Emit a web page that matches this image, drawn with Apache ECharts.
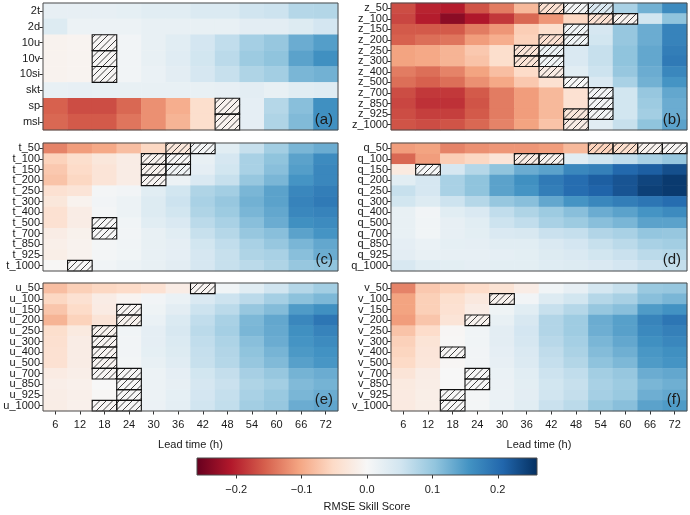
<!DOCTYPE html>
<html><head><meta charset="utf-8">
<script src="https://cdn.jsdelivr.net/npm/echarts@6/dist/echarts.min.js"></script>
<style>html,body{margin:0;padding:0;background:#fff}#c{width:690px;height:515px}</style>
</head><body><div id="c"></div>
<script>
const leadTimes = ['6','12','18','24','30','36','42','48','54','60','66','72'];

const rowsA = ['2t','2d','10u','10v','10si','skt','sp','msl'];
const valsA = [
 [0.022,0.022,0.022,0.024,0.03,0.03,0.038,0.038,0.052,0.055,0.075,0.077],
 [0.035,0.015,0.015,0.015,0.02,0.02,0.02,0.02,0.028,0.028,0.035,0.048],
 [-0.01,-0.008,-0.003,0.008,0.02,0.03,0.048,0.065,0.088,0.1,0.13,0.145],
 [-0.01,-0.008,-0.003,0.008,0.02,0.032,0.05,0.07,0.095,0.105,0.14,0.16],
 [-0.01,-0.008,-0.003,0.008,0.018,0.028,0.045,0.06,0.08,0.09,0.12,0.125],
 [0.02,0.022,0.02,0.02,0.02,0.02,0.02,0.022,0.028,0.02,0.03,0.033],
 [-0.155,-0.17,-0.17,-0.15,-0.12,-0.095,-0.045,-0.01,0.025,0.075,0.11,0.16],
 [-0.15,-0.16,-0.16,-0.14,-0.12,-0.09,-0.045,-0.01,0.025,0.08,0.115,0.16]
];
const hatchA = [[2,2],[2,3],[2,4],[7,6],[7,7]];

const rowsB = ['z_50','z_100','z_150','z_200','z_250','z_300','z_400','z_500','z_700','z_850','z_925','z_1000'];
const valsB = [
 [-0.17,-0.2,-0.205,-0.165,-0.135,-0.085,-0.04,0.005,0.04,0.085,0.125,0.165],
 [-0.175,-0.205,-0.235,-0.21,-0.185,-0.15,-0.115,-0.055,-0.04,-0.01,0.05,0.105],
 [-0.16,-0.16,-0.16,-0.135,-0.115,-0.065,-0.045,0.01,0.045,0.1,0.13,0.175],
 [-0.155,-0.145,-0.14,-0.11,-0.095,-0.06,-0.04,0.01,0.05,0.1,0.13,0.175],
 [-0.105,-0.1,-0.09,-0.07,-0.045,-0.035,0.015,0.04,0.06,0.105,0.135,0.18],
 [-0.105,-0.1,-0.09,-0.075,-0.045,-0.035,0.01,0.04,0.06,0.105,0.135,0.185],
 [-0.135,-0.145,-0.13,-0.105,-0.08,-0.05,-0.02,0.03,0.055,0.1,0.13,0.17],
 [-0.145,-0.155,-0.145,-0.12,-0.1,-0.07,-0.04,0.0,0.04,0.085,0.125,0.155],
 [-0.17,-0.185,-0.185,-0.16,-0.135,-0.11,-0.085,-0.04,0.005,0.05,0.1,0.135],
 [-0.175,-0.19,-0.19,-0.165,-0.135,-0.11,-0.085,-0.04,0.005,0.05,0.095,0.13],
 [-0.17,-0.18,-0.18,-0.16,-0.135,-0.11,-0.085,-0.03,0.005,0.05,0.09,0.13],
 [-0.165,-0.17,-0.165,-0.15,-0.13,-0.105,-0.075,-0.02,0.03,0.06,0.105,0.14]
];
const hatchB = [[6,0],[7,0],[8,0],[8,1],[9,1],[7,2],[6,3],[7,3],[5,4],[6,4],[5,5],[6,5],[6,6],[7,7],[8,8],[8,9],[7,10],[8,10],[7,11]];

const rowsC = ['t_50','t_100','t_150','t_200','t_250','t_300','t_400','t_500','t_700','t_850','t_925','t_1000'];
const valsC = [
 [-0.13,-0.11,-0.1,-0.08,-0.055,-0.03,0.005,0.03,0.06,0.09,0.12,0.13],
 [-0.06,-0.045,-0.03,-0.02,-0.01,0.0,0.02,0.045,0.085,0.105,0.14,0.165],
 [-0.07,-0.05,-0.035,-0.02,-0.01,0.01,0.025,0.05,0.085,0.11,0.145,0.17],
 [-0.075,-0.055,-0.035,-0.02,-0.005,0.015,0.04,0.06,0.1,0.12,0.155,0.17],
 [-0.04,-0.035,0.005,0.008,0.03,0.05,0.08,0.09,0.12,0.14,0.17,0.18],
 [-0.03,-0.01,0.008,0.015,0.035,0.055,0.085,0.1,0.125,0.14,0.175,0.185],
 [-0.04,-0.02,0.005,0.015,0.035,0.05,0.08,0.095,0.12,0.135,0.17,0.175],
 [-0.04,-0.02,0.0,0.01,0.03,0.04,0.07,0.085,0.11,0.13,0.16,0.165],
 [-0.02,-0.012,0.0,0.008,0.02,0.03,0.06,0.075,0.1,0.11,0.14,0.155],
 [-0.015,-0.01,0.005,0.01,0.02,0.025,0.05,0.065,0.085,0.1,0.12,0.135],
 [-0.017,-0.01,0.005,0.01,0.02,0.025,0.045,0.06,0.08,0.085,0.11,0.13],
 [-0.002,0.0,0.01,0.015,0.02,0.028,0.045,0.06,0.07,0.08,0.1,0.105]
];
const hatchC = [[5,0],[6,0],[4,1],[5,1],[4,2],[5,2],[4,3],[2,7],[2,8],[1,11]];

const rowsD = ['q_50','q_100','q_150','q_200','q_250','q_300','q_400','q_500','q_700','q_850','q_925','q_1000'];
const valsD = [
 [-0.11,-0.105,-0.13,-0.12,-0.115,-0.115,-0.11,-0.085,-0.06,-0.045,-0.01,-0.003],
 [-0.15,-0.11,-0.065,-0.055,-0.035,-0.02,-0.01,0.03,0.05,0.065,0.085,0.1],
 [-0.025,0.0,0.045,0.075,0.105,0.13,0.14,0.17,0.178,0.205,0.215,0.23],
 [0.03,0.045,0.085,0.105,0.14,0.16,0.185,0.2,0.215,0.225,0.24,0.25],
 [0.06,0.045,0.085,0.105,0.14,0.155,0.18,0.2,0.21,0.225,0.245,0.25],
 [0.05,0.035,0.055,0.075,0.1,0.11,0.135,0.155,0.17,0.18,0.19,0.2],
 [0.02,0.008,0.03,0.04,0.065,0.08,0.095,0.11,0.13,0.14,0.155,0.165],
 [0.02,0.01,0.022,0.03,0.055,0.065,0.085,0.095,0.11,0.12,0.14,0.14],
 [0.02,0.01,0.022,0.027,0.04,0.043,0.058,0.062,0.078,0.085,0.102,0.1],
 [0.025,0.018,0.024,0.025,0.03,0.03,0.04,0.048,0.06,0.07,0.085,0.09],
 [0.028,0.02,0.022,0.022,0.025,0.027,0.035,0.04,0.05,0.058,0.07,0.075],
 [0.043,0.03,0.027,0.025,0.027,0.027,0.033,0.036,0.04,0.048,0.058,0.063]
];
const hatchD = [[8,0],[9,0],[10,0],[11,0],[5,1],[6,1],[1,2]];

const rowsE = ['u_50','u_100','u_150','u_200','u_250','u_300','u_400','u_500','u_700','u_850','u_925','u_1000'];
const valsE = [
 [-0.08,-0.063,-0.055,-0.05,-0.04,-0.02,-0.005,0.01,0.03,0.052,0.075,0.09],
 [-0.055,-0.04,-0.02,-0.008,0.008,0.018,0.04,0.055,0.07,0.088,0.107,0.118],
 [-0.073,-0.05,-0.022,-0.005,0.013,0.028,0.055,0.07,0.1,0.113,0.148,0.16],
 [-0.09,-0.06,-0.035,-0.01,0.018,0.038,0.065,0.085,0.118,0.135,0.17,0.19],
 [-0.045,-0.025,-0.01,0.01,0.025,0.042,0.07,0.088,0.12,0.133,0.16,0.175],
 [-0.042,-0.02,-0.005,0.008,0.025,0.038,0.065,0.082,0.11,0.13,0.155,0.165],
 [-0.04,-0.02,-0.005,0.008,0.024,0.035,0.062,0.078,0.105,0.122,0.15,0.157],
 [-0.04,-0.02,-0.005,0.007,0.02,0.032,0.06,0.075,0.1,0.115,0.143,0.153],
 [-0.022,-0.016,-0.003,0.0,0.015,0.025,0.05,0.063,0.087,0.1,0.123,0.13],
 [-0.016,-0.013,0.0,0.0,0.015,0.022,0.045,0.058,0.08,0.09,0.115,0.123],
 [-0.018,-0.014,-0.002,0.0,0.015,0.024,0.048,0.062,0.085,0.098,0.12,0.13],
 [-0.018,-0.013,-0.003,0.0,0.016,0.026,0.052,0.064,0.09,0.1,0.13,0.137]
];
const hatchE = [[6,0],[3,2],[3,3],[2,4],[2,5],[2,6],[2,7],[2,8],[3,8],[3,9],[3,10],[2,11],[3,11]];

const rowsF = ['v_50','v_100','v_150','v_200','v_250','v_300','v_400','v_500','v_700','v_850','v_925','v_1000'];
const valsF = [
 [-0.13,-0.07,-0.06,-0.05,-0.038,-0.02,0.01,0.022,0.047,0.06,0.097,0.1],
 [-0.105,-0.063,-0.043,-0.027,-0.01,0.008,0.035,0.05,0.075,0.086,0.11,0.12],
 [-0.105,-0.063,-0.04,-0.02,0.012,0.03,0.06,0.075,0.1,0.11,0.148,0.157],
 [-0.11,-0.073,-0.035,-0.01,0.02,0.043,0.078,0.093,0.13,0.143,0.173,0.19],
 [-0.075,-0.048,-0.003,0.01,0.028,0.048,0.078,0.093,0.128,0.142,0.168,0.178],
 [-0.062,-0.036,-0.002,0.01,0.028,0.045,0.073,0.088,0.12,0.135,0.16,0.17],
 [-0.057,-0.033,-0.003,0.008,0.025,0.04,0.066,0.083,0.113,0.127,0.152,0.16],
 [-0.052,-0.031,-0.003,0.008,0.022,0.037,0.062,0.077,0.106,0.118,0.148,0.155],
 [-0.035,-0.02,0.0,0.0,0.018,0.03,0.055,0.065,0.09,0.1,0.13,0.135],
 [-0.025,-0.018,0.0,0.0,0.017,0.027,0.05,0.06,0.085,0.095,0.12,0.127],
 [-0.024,-0.017,0.0,0.005,0.017,0.028,0.052,0.063,0.088,0.098,0.128,0.135],
 [-0.024,-0.017,0.0,0.005,0.018,0.03,0.058,0.07,0.098,0.11,0.14,0.148]
];
const hatchF = [[4,1],[3,3],[2,6],[3,8],[3,9],[2,10],[2,11]];

const cbMin = -0.26, cbMax = 0.26;
const cbTicks = [-0.2, -0.1, 0.0, 0.1, 0.2];
const panelLabels = ['(a)','(b)','(c)','(d)','(e)','(f)'];

// ---------- styling / layout ----------
const FONT = '"Liberation Sans", Arial, Helvetica, sans-serif';
const TXT = '#1a1a1a';
const RdBu = ['#67001f','#b2182b','#d6604d','#f4a582','#fddbc7','#f7f7f7','#d1e5f0','#92c5de','#4393c3','#2166ac','#053061'];
const panels = [
  {rows: rowsA, vals: valsA, hatch: hatchA},
  {rows: rowsB, vals: valsB, hatch: hatchB},
  {rows: rowsC, vals: valsC, hatch: hatchC},
  {rows: rowsD, vals: valsD, hatch: hatchD},
  {rows: rowsE, vals: valsE, hatch: hatchE},
  {rows: rowsF, vals: valsF, hatch: hatchF}
];
const gridPos = [
  {left: 43, top: 3, width: 295, height: 127},
  {left: 391, top: 3, width: 296, height: 127},
  {left: 43, top: 143, width: 295, height: 128},
  {left: 391, top: 143, width: 296, height: 128},
  {left: 43, top: 283, width: 295, height: 128},
  {left: 391, top: 283, width: 296, height: 128}
];
const labelPos = [[333,120],[681,120],[333,260],[681,260],[333,400],[681,400]];

const grids = gridPos.map(g => Object.assign({}, g, {show: true, borderColor: '#4a4a4a', borderWidth: 1, backgroundColor: 'transparent', z: 10}));
grids.push({left: 197, top: 458, width: 340, height: 17, show: true, borderColor: '#4a4a4a', borderWidth: 1, backgroundColor: 'transparent', z: 10});

const xAxes = [], yAxes = [], series = [];
panels.forEach((p, i) => {
  const bottom = i >= 4;
  xAxes.push({
    type: 'category', gridIndex: i, data: leadTimes, show: bottom,
    axisLine: {show: false}, splitLine: {show: false},
    axisTick: {show: true, alignWithLabel: true, interval: 0, length: 3.5, lineStyle: {color: '#333'}},
    axisLabel: {fontSize: 11, color: TXT, fontFamily: FONT, margin: 8, interval: 0},
    name: bottom ? 'Lead time (h)' : '', nameLocation: 'middle', nameGap: 28,
    nameTextStyle: {fontSize: 11, color: TXT, fontFamily: FONT}
  });
  yAxes.push({
    type: 'category', gridIndex: i, data: p.rows, inverse: true,
    axisLine: {show: false}, splitLine: {show: false},
    axisTick: {show: true, alignWithLabel: true, interval: 0, length: 3.5, lineStyle: {color: '#333'}},
    axisLabel: {fontSize: 11, color: TXT, fontFamily: FONT, margin: 3, interval: 0}
  });
  const data = [];
  p.vals.forEach((row, r) => row.forEach((v, c) => data.push([c, r, v])));
  series.push({
    type: 'heatmap', xAxisIndex: i, yAxisIndex: i, data: data,
    itemStyle: {borderWidth: 0}, emphasis: {disabled: true}, silent: true, progressive: 0
  });
});
panels.forEach((p, i) => {
  series.push({
    type: 'custom', xAxisIndex: i, yAxisIndex: i, data: p.hatch, z: 5, silent: true,
    encode: {x: 0, y: 1},
    renderItem: function (params, api) {
      const c = api.coord([api.value(0), api.value(1)]);
      const s = api.size([1, 1]);
      const x0 = c[0] - s[0] / 2, y0 = c[1] - s[1] / 2, w = s[0], h = s[1];
      const d = 6.5, children = [];
      for (let C = Math.ceil((x0 + y0) / d) * d; C < x0 + y0 + w + h; C += d) {
        const xa = Math.max(x0, C - y0 - h), xb = Math.min(x0 + w, C - y0);
        if (xb - xa > 0.3) children.push({type: 'line', shape: {x1: xa, y1: C - xa, x2: xb, y2: C - xb}, style: {stroke: '#111', lineWidth: 0.8}});
      }
      children.push({type: 'rect', shape: {x: x0, y: y0, width: w, height: h}, style: {fill: null, stroke: '#111', lineWidth: 1.1}});
      return {type: 'group', children: children};
    }
  });
});

// colorbar
xAxes.push({
  type: 'value', gridIndex: 6, min: cbMin, max: cbMax,
  axisLine: {show: false}, splitLine: {show: false},
  axisTick: {show: true, customValues: cbTicks, length: 3.5, lineStyle: {color: '#333'}},
  axisLabel: {customValues: cbTicks, fontSize: 11, color: TXT, fontFamily: FONT, margin: 9,
    formatter: v => (v < 0 ? '\u2212' : '') + Math.abs(v).toFixed(1)},
  name: 'RMSE Skill Score', nameLocation: 'middle', nameGap: 26,
  nameTextStyle: {fontSize: 11, color: TXT, fontFamily: FONT}
});
yAxes.push({type: 'value', gridIndex: 6, min: 0, max: 1, show: false});
series.push({
  type: 'custom', xAxisIndex: 6, yAxisIndex: 6, data: [[cbMin, cbMax]], silent: true,
  renderItem: function (params, api) {
    const a = api.coord([api.value(0), 0]);
    const b = api.coord([api.value(1), 1]);
    const stops = RdBu.map((col, k) => ({offset: k / (RdBu.length - 1), color: col}));
    return {type: 'rect', shape: {x: a[0], y: b[1], width: b[0] - a[0], height: a[1] - b[1]},
      style: {fill: new echarts.graphic.LinearGradient(0, 0, 1, 0, stops)}};
  }
});

const graphic = panelLabels.map((t, i) => ({
  type: 'text', x: labelPos[i][0], y: labelPos[i][1], z: 20, silent: true,
  style: {text: t, fill: TXT, font: '15px ' + FONT, textAlign: 'right', textVerticalAlign: 'middle'}
}));

const chart = echarts.init(document.getElementById('c'), null, {renderer: 'canvas'});
chart.setOption({
  animation: false,
  backgroundColor: '#fff',
  grid: grids, xAxis: xAxes, yAxis: yAxes,
  visualMap: {type: 'continuous', show: false, min: cbMin, max: cbMax, dimension: 2,
    seriesIndex: [0,1,2,3,4,5], inRange: {color: RdBu}},
  graphic: graphic,
  series: series
});
</script></body></html>
